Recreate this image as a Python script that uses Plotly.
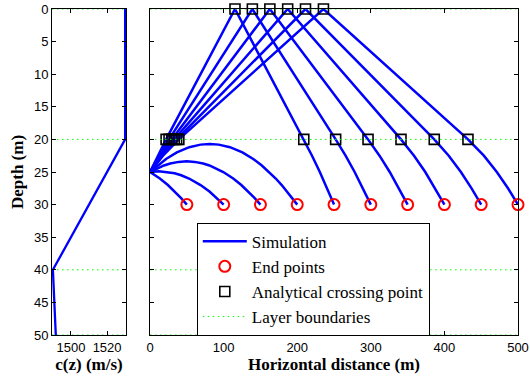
import plotly.graph_objects as go

# ---------------- data ----------------
# sound-speed profile
profile_depth = [0, 20, 40, 50]
profile_c = [1530, 1530, 1490, 1491.6]

# layer boundaries (depth, m)
layer_depths = [0, 20, 40, 50]

# ray paths (horizontal distance, depth)
ray_x = [
    [0, 13.3, 24.2, 33.7, 42.2, 50.0],
    [0, 3.7, 12.1, 33.4, 42.3, 53.0, 68.6, 80.7, 90.9, 100.0],
    [0, 8.4, 18.9, 27.4, 38.9, 49.8, 60.6, 72.1, 80.7, 99.5, 113.0, 124.0, 133.6, 142.2, 150.0],
    [0, 21.7, 36.4, 53.3, 68.6, 81.0, 93.3, 108.6, 125.5, 140.2, 151.9, 161.9, 170.8, 178.9, 186.3, 193.3, 200.0],
    [0, 10.6, 21.8, 115.4, 208.9, 220.1, 230.7, 240.7, 250.0],
    [0, 12.3, 25.8, 139.0, 252.2, 265.7, 278.0, 289.4, 300.0],
    [0, 13.9, 29.5, 162.8, 296.2, 311.8, 325.7, 338.3, 350.0],
    [0, 15.3, 32.9, 187.0, 341.0, 358.7, 374.0, 387.6, 400.0],
    [0, 16.5, 36.1, 211.2, 386.2, 405.9, 422.4, 436.9, 450.0],
    [0, 17.6, 39.1, 235.6, 432.0, 453.6, 471.2, 486.4, 500.0],
]
ray_z = [
    [25, 26, 27, 28, 29, 30],
    [25, 24.95, 24.9, 25.2, 25.5, 26, 27, 28, 29, 30],
    [25, 24.5, 24, 23.7, 23.45, 23.37, 23.45, 23.7, 24, 25, 26, 27, 28, 29, 30],
    [25, 23, 22, 21.2, 20.8, 20.7, 20.8, 21.2, 22, 23, 24, 25, 26, 27, 28, 29, 30],
    [25, 22.5, 20, 0, 20, 22.5, 25, 27.5, 30],
    [25, 22.5, 20, 0, 20, 22.5, 25, 27.5, 30],
    [25, 22.5, 20, 0, 20, 22.5, 25, 27.5, 30],
    [25, 22.5, 20, 0, 20, 22.5, 25, 27.5, 30],
    [25, 22.5, 20, 0, 20, 22.5, 25, 27.5, 30],
    [25, 22.5, 20, 0, 20, 22.5, 25, 27.5, 30],
]

# end points
end_x = [50, 100, 150, 200, 250, 300, 350, 400, 450, 500]
end_z = [30, 30, 30, 30, 30, 30, 30, 30, 30, 30]

# analytical crossing points
cross_x = [21.8, 25.8, 29.5, 32.9, 36.1, 39.1,
           115.4, 139.0, 162.8, 187.0, 211.2, 235.6,
           208.9, 252.2, 296.2, 341.0, 386.2, 432.0]
cross_z = [20, 20, 20, 20, 20, 20,
           0, 0, 0, 0, 0, 0,
           20, 20, 20, 20, 20, 20]

# ---------------- figure ----------------
W, H = 530, 378
L, R, T, B = 52, 12.3, 9, 43
pw = W - L - R

BLUE = "#0000ff"
GREEN = "#00ff00"
DOTS = "1.5px,3.5px"
TICKFONT = dict(family="Liberation Sans, Arial", size=13, color="black")
TITLEFONT = dict(family="Liberation Serif, Times New Roman", size=17, color="black")

fig = go.Figure()

# left: sound speed profile
for d in layer_depths:
    fig.add_trace(go.Scatter(x=[1489.5, 1530.5], y=[d, d], mode="lines",
                             line=dict(color=GREEN, width=1, dash=DOTS),
                             showlegend=False, hoverinfo="skip",
                             xaxis="x", yaxis="y"))
fig.add_trace(go.Scatter(x=profile_c, y=profile_depth, mode="lines",
                         line=dict(color=BLUE, width=2.3),
                         showlegend=False, xaxis="x", yaxis="y"))

# right: rays
rx, rz = [], []
for xs, zs in zip(ray_x, ray_z):
    rx += xs + [None]
    rz += zs + [None]
fig.add_trace(go.Scatter(x=rx, y=rz, mode="lines", name="Simulation",
                         line=dict(color=BLUE, width=2.5),
                         xaxis="x2", yaxis="y2"))
fig.add_trace(go.Scatter(x=end_x, y=end_z, mode="markers", name="End points",
                         marker=dict(symbol="circle-open", size=11, color="red",
                                     line=dict(width=2, color="red")),
                         cliponaxis=False, xaxis="x2", yaxis="y2"))
fig.add_trace(go.Scatter(x=cross_x, y=cross_z, mode="markers",
                         name="Analytical crossing point",
                         marker=dict(symbol="square-open", size=10, color="black",
                                     line=dict(width=1.6, color="black")),
                         cliponaxis=False, xaxis="x2", yaxis="y2"))
lx, lz = [], []
for d in layer_depths:
    lx += [0, 500, None]
    lz += [d, d, None]
fig.add_trace(go.Scatter(x=lx, y=lz, mode="lines", name="Layer boundaries",
                         line=dict(color=GREEN, width=1, dash=DOTS),
                         xaxis="x2", yaxis="y2"))

axis_common = dict(showline=True, linecolor="black", linewidth=1, mirror="allticks",
                   ticks="inside", ticklen=4, tickcolor="black", tickwidth=1,
                   showgrid=False, zeroline=False, tickfont=TICKFONT,
                   automargin=False)

fig.update_layout(
    width=W, height=H,
    margin=dict(l=L, r=R, t=T, b=B, pad=0),
    paper_bgcolor="white", plot_bgcolor="white",
    xaxis=dict(domain=[0, 74 / pw], range=[1489.5, 1530.5],
               tickvals=[1500, 1520], ticktext=["1500", "1520"],
               title=dict(text="<b>c(z) (m/s)</b>", font=TITLEFONT, standoff=3),
               anchor="y", **axis_common),
    yaxis=dict(domain=[0, 1], range=[50, 0], dtick=5,
               title=dict(text="<b>Depth (m)</b>", font=TITLEFONT, standoff=5),
               anchor="x", **axis_common),
    xaxis2=dict(domain=[98 / pw, 1], range=[0, 500], dtick=100,
                title=dict(text="<b>Horizontal distance (m)</b>", font=TITLEFONT, standoff=3),
                anchor="y2", **axis_common),
    yaxis2=dict(domain=[0, 1], range=[50, 0], dtick=5, showticklabels=False,
                anchor="x2", **axis_common),
    legend=dict(x=(196.7 - L) / pw, y=1 - (222.7 - T) / (H - T - B),
                xanchor="left", yanchor="top",
                bgcolor="white", bordercolor="black", borderwidth=1,
                font=dict(family="Liberation Serif, Times New Roman", size=17, color="black"),
                itemwidth=44, entrywidth=190, tracegroupgap=0),
    showlegend=True,
)

fig.write_html("out.html", config={"displayModeBar": False},
               post_script="document.body.style.margin='0';")
